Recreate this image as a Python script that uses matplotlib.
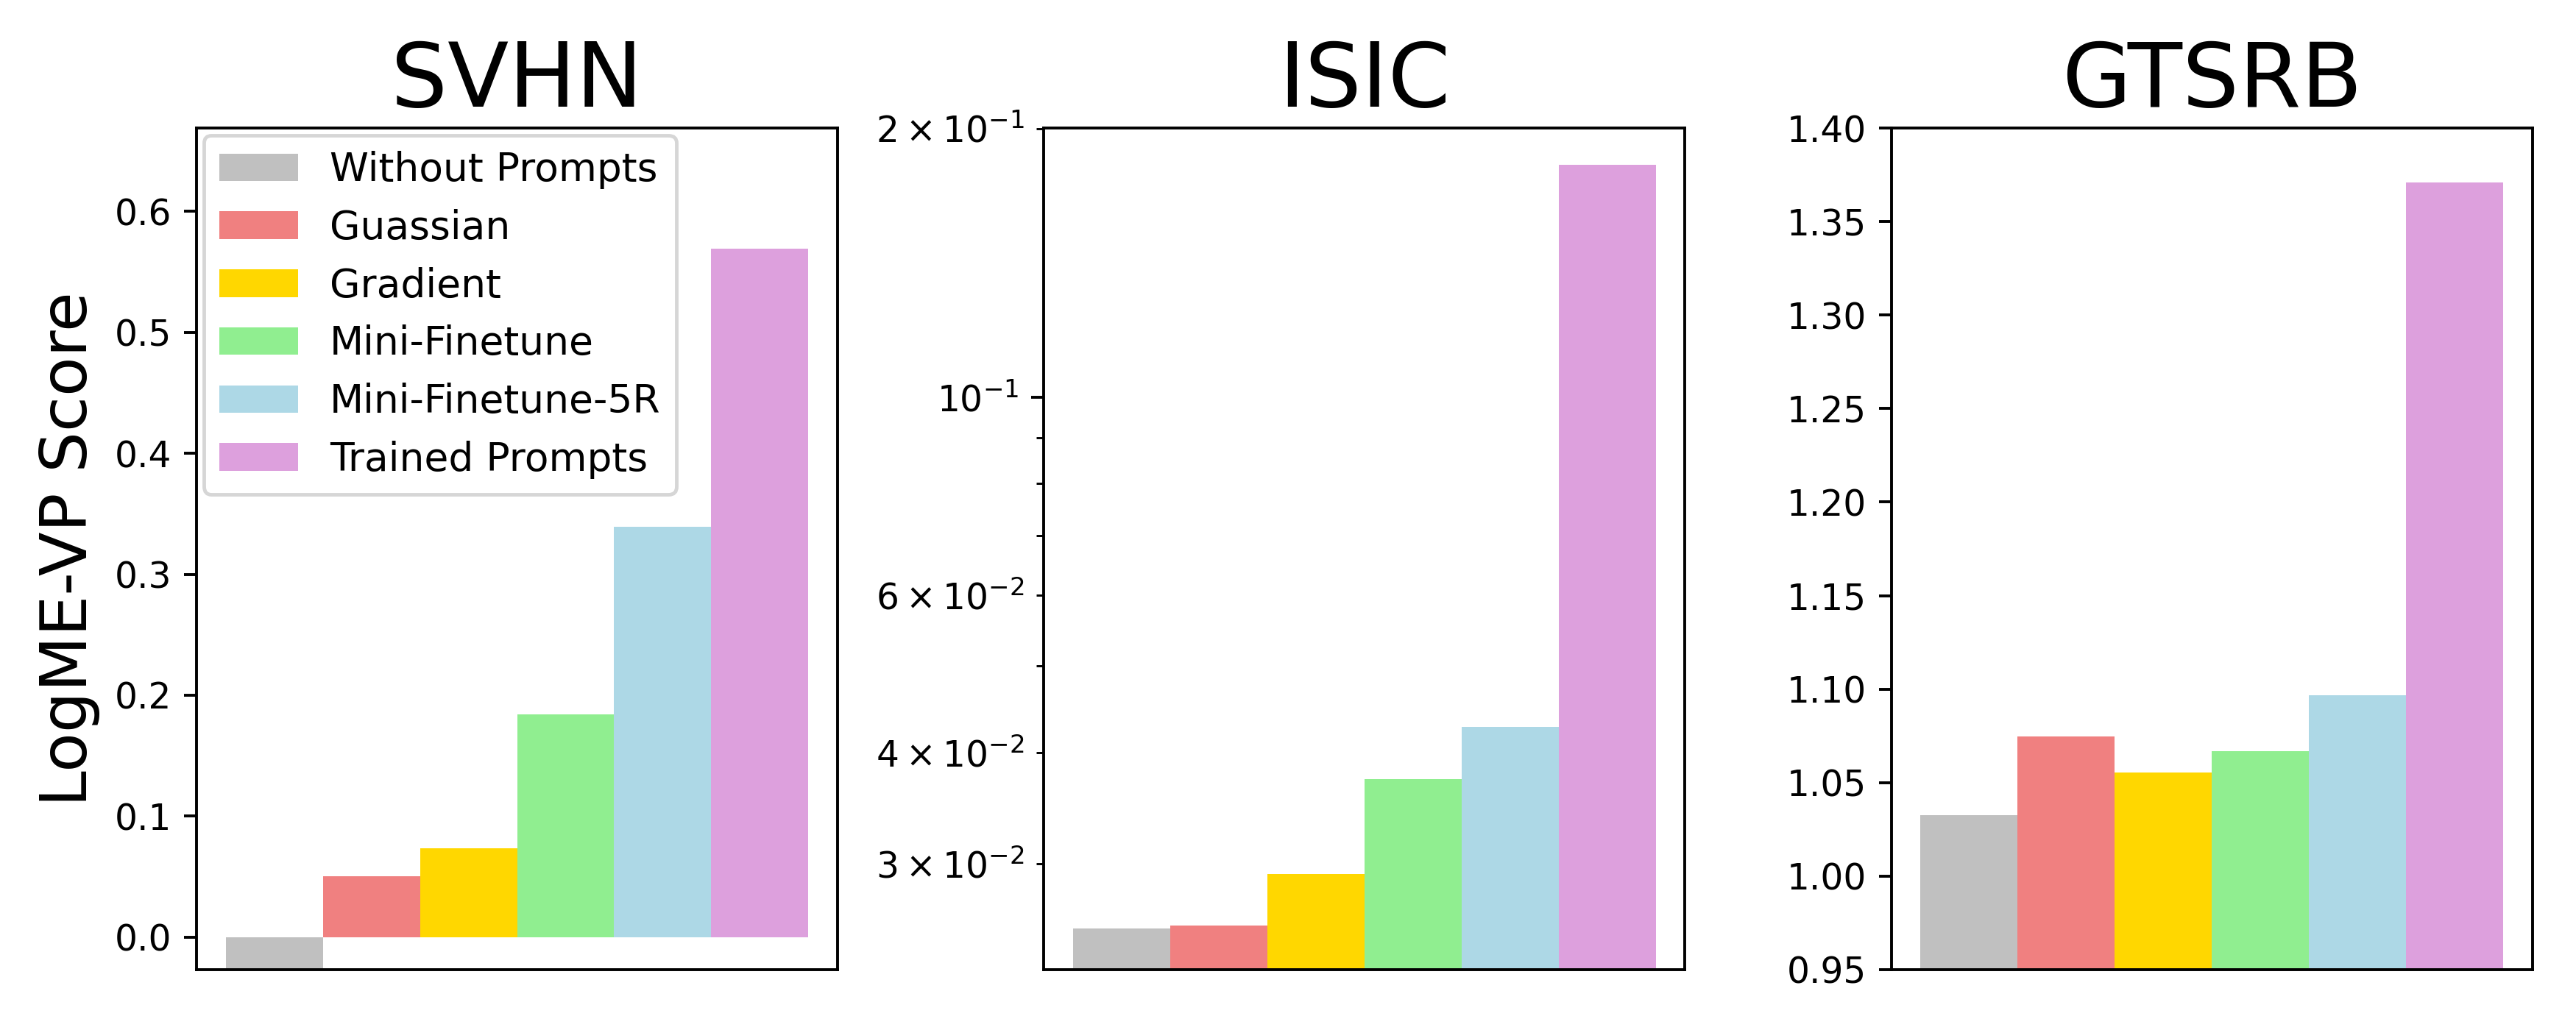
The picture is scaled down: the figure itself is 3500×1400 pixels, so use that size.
import numpy as np
import matplotlib
matplotlib.use("Agg")
import matplotlib.pyplot as plt

methods = ["Without Prompts", "Guassian", "Gradient", "Mini-Finetune",
           "Mini-Finetune-5R", "Trained Prompts"]
colors = ["silver", "lightcoral", "gold", "lightgreen", "lightblue", "plum"]

datasets = ["SVHN", "ISIC", "GTSRB"]
svhn = [-0.030, 0.050, 0.0735, 0.184, 0.339, 0.569]
isic = [0.02537, 0.02560, 0.02924, 0.03735, 0.04273, 0.1821]
gtsrb = [1.0325, 1.0746, 1.0553, 1.0668, 1.0966, 1.3708]
scores = [svhn, isic, gtsrb]

fig, axes = plt.subplots(1, 3, figsize=(10, 4))
fig.subplots_adjust(left=0.0763, right=0.9831, bottom=0.0586, top=0.8757, wspace=0.322)

x = np.arange(len(methods))
for k, ax in enumerate(axes):
    vals = scores[k]
    for i in range(len(methods)):
        ax.bar(x[i], vals[i], width=1.0, color=colors[i], label=methods[i])
    ax.set_title(datasets[k], fontsize=25)
    ax.set_xticks([])

# limites des axes
axes[0].set_ylim(min(svhn) * 0.9, max(svhn) + 0.1)
axes[1].set_yscale("log")
axes[1].set_ylim(min(isic) * 0.9, max(isic) * 1.1)
axes[2].set_ylim(0.95, 1.40)

axes[0].set_ylabel("LogME-VP Score", fontsize=18)
axes[0].legend(loc="upper left", fontsize=11, borderaxespad=0.18)

fig.savefig("out.png", dpi=350)
